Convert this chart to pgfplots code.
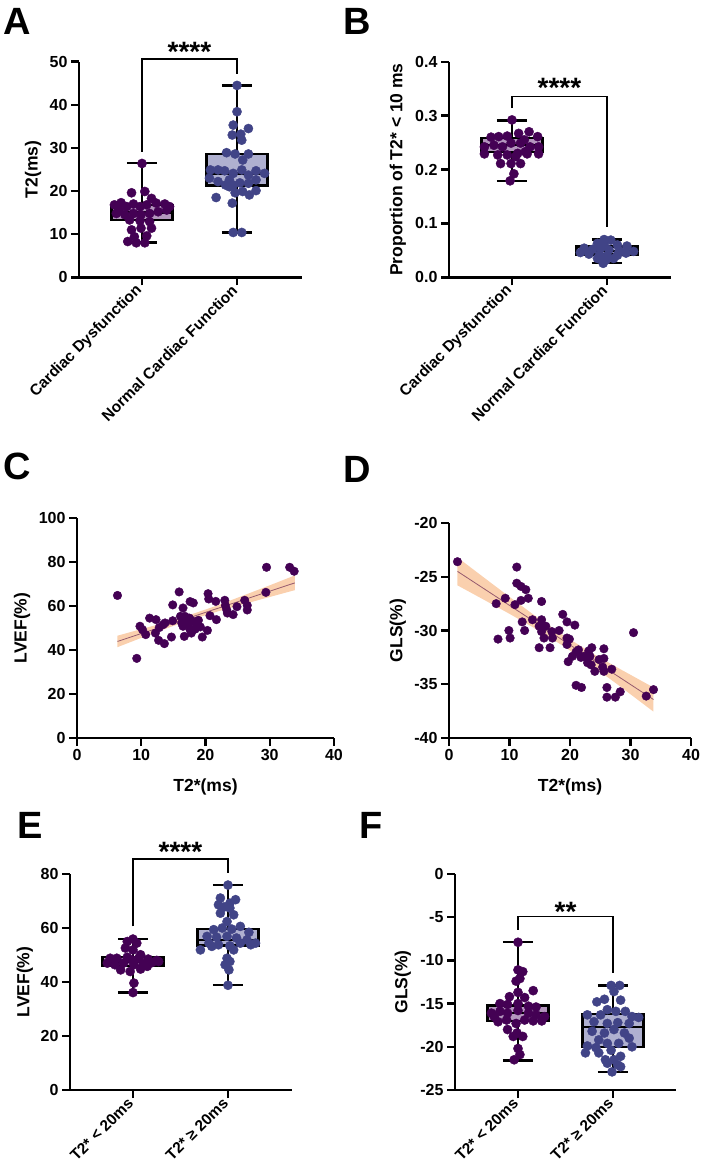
\documentclass[border=0pt]{standalone}
\usepackage{fontspec}
\setmainfont{Liberation Sans}
\usepackage{pgfplots}
\pgfplotsset{compat=1.18}
\usepgfplotslibrary{statistics}
\definecolor{cpurp}{HTML}{440154}
\definecolor{cblue}{HTML}{414487}
\definecolor{fpurp}{RGB}{180,150,190}
\definecolor{fblue}{RGB}{175,176,208}
\definecolor{band}{RGB}{249,200,160}
\definecolor{regl}{RGB}{150,90,110}
\newcommand{\tickfont}{\bfseries\fontsize{16}{18}\selectfont}
\newcommand{\labfont}{\bfseries\fontsize{17.5}{20}\selectfont}
\newcommand{\catfont}{\bfseries\fontsize{15.5}{18}\selectfont}
\newcommand{\letfont}{\bfseries\fontsize{38}{40}\selectfont}
\newcommand{\astfont}{\bfseries\fontsize{28}{30}\selectfont}
\pgfplotsset{
  panel/.style={
    scale only axis, clip=false,
    axis lines=left,
    axis line style={line width=2.4pt,-},
    tick style={line width=2.4pt,black},
    major tick length=8pt,
    tick align=outside,
    tick label style={font=\tickfont},
    label style={font=\labfont},
    anchor=south west,
  },
  cat/.style={
    panel, xmin=-0.663, xtick={0,1},
    xticklabel style={font=\catfont, rotate=45, anchor=east},
    boxplot/draw direction=y,
  },
  dots/.style={only marks, mark=*, mark size=4.6pt, draw=#1, fill=#1, mark options={draw=#1, fill=#1}},
  sdots/.style={only marks, mark=*, mark size=4.3pt, mark options={draw=cpurp, fill=cpurp}},
  bx/.style={draw=black, line width=2.4pt, fill=#1, mark=none},
  brk/.style={black, line width=1.4pt, mark=none},
}
\begin{document}
\begin{tikzpicture}
\path[use as bounding box] (0pt,0pt) rectangle (702pt,-1174pt);
% panel letters
\node[font=\letfont, anchor=north west, inner sep=0pt] at (3pt,-8pt) {A};
\node[font=\letfont, anchor=north west, inner sep=0pt] at (343pt,-8pt) {B};
\node[font=\letfont, anchor=north west, inner sep=0pt] at (3pt,-453pt) {C};
\node[font=\letfont, anchor=north west, inner sep=0pt] at (343pt,-456pt) {D};
\node[font=\letfont, anchor=north west, inner sep=0pt] at (17pt,-812pt) {E};
\node[font=\letfont, anchor=north west, inner sep=0pt] at (359pt,-812pt) {F};

% ---------------- A ----------------
\begin{axis}[cat, at={(79pt,-277.3pt)}, width=223pt, height=215.6pt,
  xmax=1.684, ymin=0, ymax=50, ytick={0,10,20,30,40,50},
  yticklabels={0,10,20,30,40,50},
  xticklabels={Cardiac Dysfunction,Normal Cardiac Function},
  ylabel={T2(ms)}, ylabel style={at={(axis description cs:-0.206,0.5)}, anchor=center}]
\addplot[bx=fpurp, boxplot prepared={lower whisker=8.1, lower quartile=13.3, median=15.0, upper quartile=16.8, upper whisker=26.5, draw position=0, box extend=0.64, whisker extend=0.32}] coordinates {};
\addplot[bx=fblue, boxplot prepared={lower whisker=10.4, lower quartile=21.3, median=24.1, upper quartile=28.6, upper whisker=44.5, draw position=1, box extend=0.64, whisker extend=0.32}] coordinates {};
\addplot[dots=cpurp] coordinates {(0,26.4)(-0.11,19.6)(0.03,19.9)(0.10,18.3)(-0.29,16.8)(-0.22,17.3)(-0.16,16.4)(-0.09,17.0)(-0.02,16.4)(0.05,16.8)(0.15,17.2)(0.24,17.0)(0.29,16.4)(-0.27,14.8)(-0.18,14.5)(-0.09,14.8)(-0.01,14.5)(0.08,14.8)(0.17,15.2)(0.26,15.6)(-0.13,13.3)(-0.02,13.1)(0.08,12.9)(-0.11,11.0)(-0.01,11.4)(0.10,11.4)(-0.08,9.4)(0.05,9.6)(-0.15,8.3)(-0.06,8.0)(0.03,8.0)(-0.24,15.6)};
\addplot[dots=cblue] coordinates {(1,44.5)(1,38.4)(0.96,35.3)(1.12,34.5)(0.95,33.0)(1.04,33.2)(1.05,31.8)(0.89,28.9)(0.98,28.6)(1.12,28.6)(1.06,27.2)(0.72,24.9)(0.80,24.9)(0.87,24.7)(0.96,24.1)(1.05,24.9)(1.12,23.7)(1.20,24.7)(1.29,24.1)(0.71,23.0)(0.80,22.2)(0.92,22.6)(1.03,21.9)(1.12,21.8)(1.20,22.6)(0.88,21.4)(0.96,21.4)(0.78,18.5)(0.98,19.6)(1.06,19.9)(1.13,19.1)(1.20,20.1)(0.95,17.2)(0.96,10.4)(1.05,10.4)(0.92,21.0)};
\addplot[brk] coordinates {(0,29.1)(0,50.6)(1,50.6)(1,47.1)};
\node[font=\astfont, anchor=base] at (axis cs:0.5,50.0) {****};
\end{axis}

% ---------------- B ----------------
\begin{axis}[cat, at={(449pt,-277.3pt)}, width=222pt, height=215.6pt,
  xmax=1.674, ymin=0, ymax=0.4, ytick={0,0.1,0.2,0.3,0.4},
  yticklabels={0.0,0.1,0.2,0.3,0.4},
  xticklabels={Cardiac Dysfunction,Normal Cardiac Function},
  ylabel={Proportion of T2* < 10 ms}, ylabel style={at={(axis description cs:-0.23,0.5)}, anchor=center}]
\addplot[bx=fpurp, boxplot prepared={lower whisker=0.179, lower quartile=0.232, median=0.245, upper quartile=0.258, upper whisker=0.291, draw position=0, box extend=0.64, whisker extend=0.32}] coordinates {};
\addplot[bx=fblue, boxplot prepared={lower whisker=0.027, lower quartile=0.042, median=0.049, upper quartile=0.057, upper whisker=0.070, draw position=1, box extend=0.64, whisker extend=0.32}] coordinates {};
\addplot[dots=cpurp] coordinates {(0,0.292)(-0.14,0.261)(-0.22,0.260)(-0.05,0.262)(0.07,0.267)(0.18,0.270)(0.27,0.261)(-0.29,0.242)(-0.19,0.245)(-0.10,0.242)(-0.01,0.249)(0.09,0.249)(0.19,0.242)(0.28,0.242)(-0.29,0.229)(-0.15,0.227)(-0.05,0.227)(0.06,0.230)(0.16,0.229)(0.28,0.229)(-0.12,0.211)(-0.01,0.211)(0.09,0.211)(0.04,0.224)(0.02,0.192)(-0.02,0.179)(0.13,0.255)(0.14,0.233)};
\addplot[dots=cblue] coordinates {(0.97,0.070)(1.04,0.069)(0.90,0.063)(1.11,0.060)(1.21,0.058)(0.76,0.054)(0.85,0.052)(0.93,0.054)(1.02,0.051)(1.13,0.049)(1.28,0.048)(0.72,0.046)(0.81,0.043)(0.92,0.041)(1.00,0.040)(1.11,0.041)(1.20,0.045)(0.90,0.035)(0.99,0.032)(0.96,0.026)(1.07,0.035)(0.97,0.060)};
\addplot[brk] coordinates {(0,0.314)(0,0.336)(1,0.336)(1,0.093)};
\node[font=\astfont, anchor=base] at (axis cs:0.5,0.333) {****};
\end{axis}

% ---------------- C ----------------
\begin{axis}[panel, at={(77pt,-738pt)}, width=257pt, height=220pt,
  xmin=0, xmax=40, ymin=0, ymax=100,
  xtick={0,10,20,30,40}, xticklabels={0,10,20,30,40},
  ytick={0,20,40,60,80,100}, yticklabels={0,20,40,60,80,100},
  xlabel={T2*(ms)}, xlabel style={at={(axis description cs:0.5,-0.223)}, anchor=center},
  ylabel={LVEF(\%)}, ylabel style={at={(axis description cs:-0.214,0.5)}, anchor=center}]
\addplot[fill=band, draw=none, opacity=0.85] coordinates {(6.3,46.5)(10,49.5)(14,52.7)(18,56.4)(22,60.4)(26,64.9)(30,69.4)(33.9,73.9)(33.9,67.2)(30,64.1)(26,60.9)(22,57.6)(18,54.0)(14,49.9)(10,45.5)(6.3,41.3)};
\addplot[regl, line width=0.8pt, mark=none] coordinates {(6.3,43.9)(33.9,70.5)};
\addplot[sdots] coordinates {(6.3,64.8)(9.3,36.2)(29.5,77.6)(29.4,66.2)(33.1,77.6)(33.8,75.8)(15.9,66.4)(14.9,60.5)(16.5,59.1)(17.6,62.0)(18.1,61.4)(20.4,65.6)(20.5,63.2)(21.6,62.1)(23.0,62.6)(23.1,60.2)(23.3,58.3)(24.9,59.7)(26.1,62.6)(26.5,60.3)(26.5,58.2)(24.3,56.1)(23.4,56.8)(20.7,55.6)(21.7,53.8)(11.3,54.5)(12.3,53.8)(9.8,50.8)(10.2,49.2)(10.7,47.0)(12.2,47.7)(12.7,44.4)(13.6,42.9)(12.8,50.2)(13.4,51.5)(13.7,52.3)(14.9,53.3)(14.7,45.9)(16.1,55.3)(16.3,52.3)(16.5,50.8)(16.7,46.2)(17.1,53.8)(17.3,51.5)(17.6,49.2)(17.8,47.7)(18.1,53.0)(18.6,51.5)(18.9,53.5)(19.2,50.5)(19.5,45.9)(20.3,48.9)(16.8,55.3)(17.5,54.5)(18.4,49.5)};
\end{axis}

% ---------------- D ----------------
\begin{axis}[panel, at={(449pt,-738pt)}, width=242pt, height=215pt,
  xmin=0, xmax=40, ymin=-40, ymax=-20,
  xtick={0,10,20,30,40}, xticklabels={0,10,20,30,40},
  ytick={-40,-35,-30,-25,-20}, yticklabels={-40,-35,-30,-25,-20},
  xlabel={T2*(ms)}, xlabel style={at={(axis description cs:0.5,-0.228)}, anchor=center},
  ylabel={GLS(\%)}, ylabel style={at={(axis description cs:-0.211,0.5)}, anchor=center}]
\addplot[fill=band, draw=none, opacity=0.85] coordinates {(1.4,-23.2)(6,-25.17)(10,-26.87)(14,-28.54)(19,-30.48)(24,-32.22)(28,-33.50)(33.8,-35.3)(33.8,-37.55)(28,-35.08)(24,-33.42)(19,-31.48)(14,-29.74)(10,-28.45)(6,-27.21)(1.4,-25.8)};
\addplot[regl, line width=0.8pt, mark=none] coordinates {(1.4,-24.5)(33.8,-36.42)};
\addplot[sdots] coordinates {(1.4,-23.6)(11.2,-24.1)(11.2,-25.6)(11.9,-25.9)(12.7,-26.2)(9.3,-27.0)(7.8,-27.5)(10.9,-27.6)(11.9,-27.2)(13.1,-27.0)(15.3,-27.3)(12.1,-29.2)(13.8,-29.0)(15.3,-29.0)(9.9,-30.0)(10.1,-30.7)(8.1,-30.8)(12.5,-30.0)(14.9,-29.6)(15.3,-30.1)(16.0,-29.6)(15.7,-30.7)(14.9,-31.6)(16.7,-31.6)(17.1,-30.7)(17.0,-30.1)(18.2,-30.0)(18.8,-28.5)(19.5,-29.2)(20.8,-29.5)(19.5,-30.7)(19.9,-30.8)(19.5,-31.3)(19.7,-32.9)(20.4,-32.4)(21.0,-32.0)(21.4,-31.8)(21.8,-32.5)(22.3,-32.4)(23.1,-31.9)(23.6,-31.6)(23.3,-32.4)(22.9,-33.0)(23.5,-33.2)(24.1,-33.8)(24.8,-32.7)(25.6,-32.6)(25.6,-31.7)(25.4,-33.4)(25.6,-33.8)(26.9,-33.6)(21.0,-35.1)(21.9,-35.3)(26.1,-35.3)(26.1,-36.2)(27.5,-36.2)(28.3,-35.7)(30.5,-30.2)(32.6,-36.1)(33.8,-35.5)};
\end{axis}

% ---------------- E ----------------
\begin{axis}[cat, at={(70pt,-1090pt)}, width=222pt, height=216pt,
  xmax=1.674, ymin=0, ymax=80, ytick={0,20,40,60,80},
  yticklabels={0,20,40,60,80},
  xticklabels={T2* < 20ms,T2* ≥ 20ms},
  ylabel={LVEF(\%)}, ylabel style={at={(axis description cs:-0.203,0.5)}, anchor=center}]
\addplot[bx=fpurp, boxplot prepared={lower whisker=36.1, lower quartile=46.0, median=47.6, upper quartile=49.2, upper whisker=55.9, draw position=0, box extend=0.64, whisker extend=0.32}] coordinates {};
\addplot[bx=fblue, boxplot prepared={lower whisker=38.8, lower quartile=53.5, median=55.5, upper quartile=59.7, upper whisker=75.9, draw position=1, box extend=0.64, whisker extend=0.32}] coordinates {};
\addplot[dots=cpurp] coordinates {(0,55.9)(-0.06,55.0)(0.04,54.4)(-0.08,52.6)(0,51.9)(0.08,50.1)(-0.24,48.8)(-0.17,48.8)(-0.06,49.2)(0.06,48.8)(0.16,48.5)(0.25,48.0)(-0.27,47.0)(-0.19,46.4)(-0.10,47.0)(0.01,46.4)(0.11,46.7)(0.20,47.2)(0.27,47.6)(-0.13,44.5)(-0.03,43.9)(0.08,44.8)(0.01,39.6)(0,36.1)(-0.01,48.2)(0.15,45.8)};
\addplot[dots=cblue] coordinates {(1,75.9)(0.92,71.1)(1.08,70.5)(1.02,69.2)(0.90,68.6)(0.96,67.8)(1.02,67.4)(0.92,65.5)(1.06,64.9)(0.99,62.4)(1.13,60.6)(0.85,59.4)(0.94,60.0)(1.04,59.6)(1.22,58.4)(0.78,56.9)(0.88,56.6)(0.99,56.9)(1.09,56.3)(1.20,55.6)(0.71,51.9)(0.80,54.4)(0.90,53.8)(1.02,53.4)(1.13,54.4)(1.24,53.8)(1.29,54.4)(0.99,48.8)(1.02,47.6)(0.97,46.4)(1.01,44.5)(1,38.8)(0.83,53.2)(1.06,51.9)};
\addplot[brk] coordinates {(0,60.6)(0,85.6)(1,85.6)(1,80.5)};
\node[font=\astfont, anchor=base] at (axis cs:0.5,84.8) {****};
\end{axis}

% ---------------- F ----------------
\begin{axis}[cat, at={(455pt,-1090pt)}, width=221pt, height=216pt,
  xmax=1.663, ymin=-25, ymax=0, ytick={-25,-20,-15,-10,-5,0},
  yticklabels={-25,-20,-15,-10,-5,0},
  xticklabels={T2* < 20ms,T2* ≥ 20ms},
  ylabel={GLS(\%)}, ylabel style={at={(axis description cs:-0.236,0.5)}, anchor=center}]
\addplot[bx=fpurp, boxplot prepared={lower whisker=-21.6, lower quartile=-17.0, median=-16.1, upper quartile=-15.2, upper whisker=-7.9, draw position=0, box extend=0.64, whisker extend=0.32}] coordinates {};
\addplot[bx=fblue, boxplot prepared={lower whisker=-22.9, lower quartile=-20.0, median=-17.7, upper quartile=-16.2, upper whisker=-12.9, draw position=1, box extend=0.64, whisker extend=0.32}] coordinates {};
\addplot[dots=cpurp] coordinates {(0,-7.9)(0,-11.1)(0.05,-11.3)(-0.02,-12.4)(0.02,-12.1)(0,-13.7)(0.16,-13.5)(-0.09,-14.2)(0.07,-14.3)(-0.19,-15.0)(-0.11,-15.1)(0,-15.0)(0.11,-15.3)(0.19,-15.4)(-0.28,-16.1)(-0.19,-15.9)(-0.11,-16.1)(0,-15.8)(0.11,-16.1)(0.19,-16.3)(0.28,-16.5)(-0.21,-17.1)(-0.12,-16.9)(-0.02,-17.3)(0.07,-16.9)(0.16,-17.0)(0.25,-17.0)(-0.11,-18.0)(-0.01,-18.4)(0.05,-18.8)(-0.05,-18.8)(0,-20.2)(0.02,-20.9)(-0.04,-21.5)(-0.25,-16.5)};
\addplot[dots=cblue] coordinates {(0.98,-12.9)(1.07,-12.9)(1.01,-13.6)(0.91,-14.5)(0.83,-14.8)(1.08,-14.6)(0.94,-15.7)(0.87,-16.3)(1.03,-15.9)(1.13,-15.9)(1.20,-16.5)(1.27,-16.6)(0.73,-16.3)(0.80,-17.1)(0.94,-17.3)(1.05,-17.2)(1.17,-17.3)(0.78,-18.2)(0.91,-18.4)(1.01,-18.0)(1.12,-18.4)(1.17,-19.0)(0.85,-19.2)(0.94,-19.6)(1.06,-19.6)(1.20,-20.0)(0.73,-19.9)(0.82,-20.1)(0.71,-20.7)(0.85,-20.7)(0.98,-20.4)(1.08,-21.1)(1.01,-21.5)(0.94,-21.9)(1.05,-22.1)(1.08,-22.3)(0.99,-22.9)(0.92,-21.5)};
\addplot[brk] coordinates {(0,-6.48)(0,-4.94)(1,-4.94)(1,-11.5)};
\node[font=\astfont, anchor=base] at (axis cs:0.5,-5.44) {**};
\end{axis}
\end{tikzpicture}
\end{document}
